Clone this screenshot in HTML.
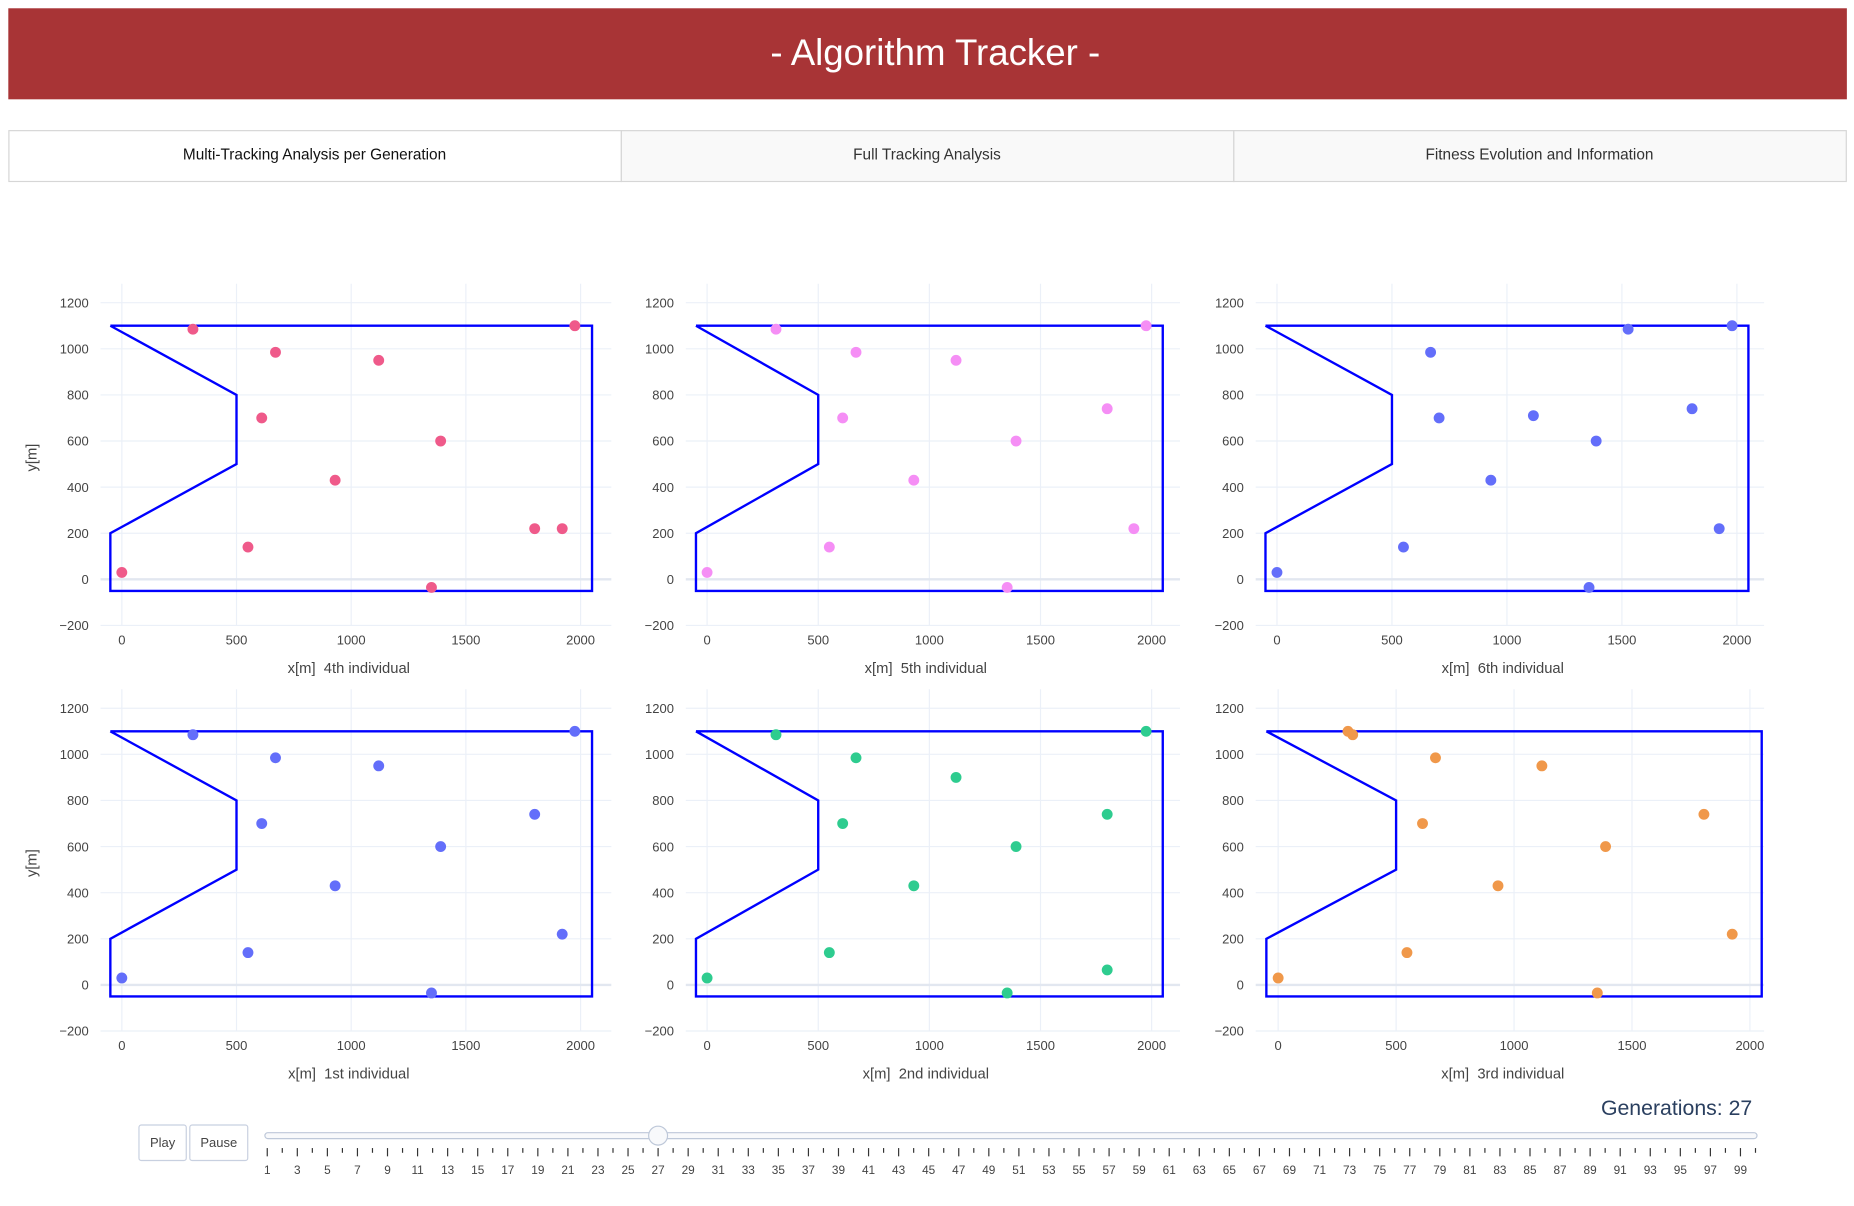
<!DOCTYPE html>
<html><head><meta charset="utf-8"><style>
html,body{margin:0;padding:0;background:#fff;}
svg{display:block;font-family:"Liberation Sans",sans-serif;}
</style></head><body>
<svg id="root" width="1854" height="1206" viewBox="0 0 1568 1020" xmlns="http://www.w3.org/2000/svg">
<rect x="7" y="7" width="1555" height="77" fill="#a83436"/>
<text x="791" y="55" text-anchor="middle" fill="#fff" font-size="31" font-weight="300">- Algorithm Tracker -</text>
<g>
<rect x="7.5" y="110.5" width="518" height="43" fill="#fff" stroke="#d6d6d6"/>
<rect x="525.5" y="110.5" width="518" height="43" fill="#f9f9f9" stroke="#d6d6d6"/>
<rect x="1043.5" y="110.5" width="518" height="43" fill="#f9f9f9" stroke="#d6d6d6"/>
<text x="266" y="135" text-anchor="middle" font-size="13" fill="#111">Multi-Tracking Analysis per Generation</text>
<text x="784" y="135" text-anchor="middle" font-size="13" fill="#333">Full Tracking Analysis</text>
<text x="1302" y="135" text-anchor="middle" font-size="13" fill="#333">Fitness Evolution and Information</text>
</g>
<g id="charts"></g>
<g id="slider"></g>
</svg>
<script>
const xTicks=[0,500,1000,1500,2000];
const yTicks=[-200,0,200,400,600,800,1000,1200];
const boundaryX=[-50,2050,2050,-50,-50,500,500,-50];
const boundaryY=[1100,1100,-50,-50,200,500,800,1100];
const titles=["4th individual","5th individual","6th individual","1st individual","2nd individual","3rd individual"];
const colors=["#ef5a8a","#f58ef5","#636efa","#636efa","#2ecc8f","#f0984a"];
const px4=[0,310,670,1120,610,1390,930,550,1350,1800,1920,1975];
const py4=[30,1085,985,950,700,600,430,140,-35,220,220,1100];
const px5=[0,310,670,1120,610,1390,930,550,1350,1800,1920,1975];
const py5=[30,1085,985,950,700,600,430,140,-35,740,220,1100];
const px6=[0,668,705,1115,550,930,1388,1357,1527,1805,1923,1979];
const py6=[30,985,700,710,140,430,600,-35,1085,740,220,1100];
const px1=[0,310,670,1120,610,1390,930,550,1350,1800,1920,1975];
const py1=[30,1085,985,950,700,600,430,140,-35,740,220,1100];
const px2=[0,310,670,1120,610,1390,930,550,1350,1800,1800,1975];
const py2=[30,1085,985,900,700,600,430,140,-35,740,65,1100];
const px3=[0,296,316,667,1118,612,932,546,1388,1353,1805,1925];
const py3=[30,1100,1085,985,950,700,430,140,600,-35,740,220];
const seriesX=[px4,px5,px6,px1,px2,px3];
const seriesY=[py4,py5,py6,py1,py2,py3];
const sliderValues=Array.from({length:100},(_,i)=>i+1);
const currentGen=27;

const NS="http://www.w3.org/2000/svg";
function mk(tag,attrs,parent){const e=document.createElementNS(NS,tag);for(const k in attrs)e.setAttribute(k,attrs[k]);parent.appendChild(e);return e;}
const layouts=[
 {x0:103,x1:491,gl:85,gr:517,row:0},{x0:598,x1:974,gl:580,gr:998,row:0},{x0:1080,x1:1469,gl:1062,gr:1492,row:0},
 {x0:103,x1:491,gl:85,gr:517,row:1},{x0:598,x1:974,gl:580,gr:998,row:1},{x0:1081,x1:1480,gl:1062,gr:1492,row:1}];
const charts=document.getElementById('charts');
layouts.forEach((L,i)=>{
 const off=L.row*343;
 const sx=v=>L.x0+(L.x1-L.x0)*v/2000;
 const sy=v=>490+off-(234)*v/1200;
 const g=mk('g',{},charts);
 
 
 xTicks.forEach(t=>{
  const l=mk('line',{x1:sx(t),x2:sx(t),y1:240+off,y2:sy(-200),stroke:'#ebf0f8','stroke-width':1},g);
  
  const tx=mk('text',{x:sx(t),y:545+off,'text-anchor':'middle','font-size':11,fill:'#444'},g);
  
  tx.textContent=t;
 });
 yTicks.forEach(t=>{
  const l=mk('line',{x1:L.gl,x2:L.gr,y1:sy(t),y2:sy(t),stroke:t===0?'#e2e7f0':'#ebf0f8','stroke-width':t===0?2:1},g);
  
  const tx=mk('text',{x:L.gl-10,y:sy(t)+4,'text-anchor':'end','font-size':11,fill:'#444'},g);
  
  tx.textContent=t<0?'\u2212'+(-t):t;
 });
 const pts=boundaryX.map((x,k)=>sx(x)+','+sy(boundaryY[k])).join(' ');
 const poly=mk('polyline',{points:pts,fill:'none',stroke:'#0000ff','stroke-width':2},g);
 
 seriesX[i].forEach((x,k)=>{
  const c=mk('circle',{cx:sx(x),cy:sy(seriesY[i][k]),r:4.6,fill:colors[i]},g);
  
 });
 const xt=mk('text',{x:(L.gl+L.gr)/2-6,y:569+off,'text-anchor':'middle','font-size':12.5,fill:'#444'},g);
 
 xt.textContent='x[m]  '+titles[i];
 xt.setAttribute('style','white-space:pre');
 if(L.gl<100){
  const yt=mk('text',{x:0,y:0,'text-anchor':'middle','font-size':12.5,fill:'#444',transform:'translate(31,'+(387+off)+') rotate(-90)'},g);
  
  yt.textContent='y[m]';
 }
});
// slider
const S=document.getElementById('slider');
const b1=mk('rect',{x:117.5,y:951.5,width:40,height:30,rx:2,fill:'#fff',stroke:'#c8d0e0'},S);

const t1=mk('text',{x:137.5,y:970,'text-anchor':'middle','font-size':11,fill:'#444'},S);t1.textContent='Play';

const b2=mk('rect',{x:160.5,y:951.5,width:49,height:30,rx:2,fill:'#fff',stroke:'#c8d0e0'},S);

const t2=mk('text',{x:185,y:970,'text-anchor':'middle','font-size':11,fill:'#444'},S);t2.textContent='Pause';

const tr=mk('rect',{x:224,y:958,width:1262,height:5,rx:2.5,fill:'#f8f9fb',stroke:'#bec8d9'},S);

const gx=v=>226+(1472-226)*(v-1)/98;
sliderValues.forEach(v=>{
 const odd=v%2===1;
 const l=mk('line',{x1:gx(v),x2:gx(v),y1:971,y2:odd?978:975,stroke:'#333','stroke-width':1},S);
 
 if(odd){const t=mk('text',{x:gx(v),y:993,'text-anchor':'middle','font-size':10,fill:'#444'},S);
  t.textContent=v;}
});
const h=mk('ellipse',{cx:gx(currentGen),cy:960.5,rx:8,ry:8,fill:'#f8f9fb',stroke:'#bec8d9'},S);

const gl=mk('text',{x:1482,y:943,'text-anchor':'end','font-size':18,fill:'#2a3f5f'},S);

gl.textContent='Generations: '+currentGen;
</script>
</body></html>
